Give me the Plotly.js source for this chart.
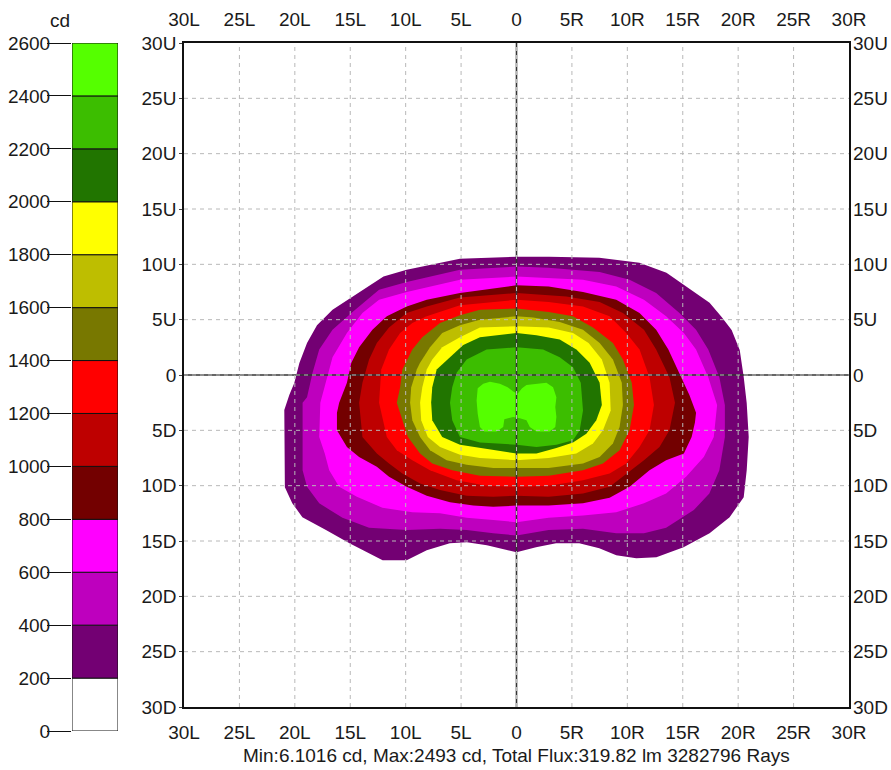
<!DOCTYPE html>
<html><head><meta charset="utf-8">
<script src="https://cdn.plot.ly/plotly-3.0.1.min.js"></script>
<style>html,body{margin:0;padding:0;background:#fff}#chart{width:891px;height:770px}</style>
</head><body><div id="chart"></div>
<script>
// Axis ticks (degrees: L negative / R positive, D negative / U positive)
const hTickVals = [-30,-25,-20,-15,-10,-5,0,5,10,15,20,25,30];
const hTickText = ['30L','25L','20L','15L','10L','5L','0','5R','10R','15R','20R','25R','30R'];
const vTickVals = [-30,-25,-20,-15,-10,-5,0,5,10,15,20,25,30];
const vTickText = ['30D','25D','20D','15D','10D','5D','0','5U','10U','15U','20U','25U','30U'];
const gridVals = [-25,-20,-15,-10,-5,0,5,10,15,20,25];

// Colour legend (cd)
const cbTickVals = [0,200,400,600,800,1000,1200,1400,1600,1800,2000,2200,2400,2600];
const bandBase = [0,200,400,600,800,1000,1200,1400,1600,1800,2000,2200,2400];
const bandColors = ['#FFFFFF','#730073','#BE00BE','#FF00FF','#730000','#BE0000','#FF0000','#787800','#BEBE00','#FFFF00','#217500','#3CBE00','#55FF00'];

// Iso-candela outlines, one per level
const contourLevels = [200,400,600,800,1000,1200,1400,1600,1800,2000,2200,2400];
const h200 = [0,2.94,7.47,11.09,13.53,15.34,17.42,18.51,19.41,20.14,20.5,20.77,20.95,20.77,20.5,19.23,17.42,15.07,12.62,10.81,9.0,7.47,5.66,3.57,1.76,0,-2.67,-4.48,-6.02,-8.1,-9.91,-12.08,-12.62,-15.07,-17.15,-19.32,-20.23,-20.9,-20.95,-20.5,-20.05,-19.59,-18.9,-18.0,-16.6,-14.89,-13.3,-12.0,-9.91,-7.5,-5.11];
const v200 = [10.68,10.68,10.59,10.14,9.23,7.96,6.52,5.25,4.07,2.26,-0.18,-2.53,-5.61,-8.6,-11.04,-12.85,-14.3,-15.57,-16.47,-16.56,-16.29,-15.66,-15.2,-15.2,-15.57,-16.02,-15.38,-15.11,-15.2,-15.84,-16.74,-16.74,-16.47,-15.2,-14.03,-12.85,-11.58,-10.14,-3.17,-1.8,-0.72,1.09,2.9,4.5,5.9,7.0,8.1,8.9,9.5,10.0,10.5];
const h400 = [0,2.9,7.5,10.2,12.6,14.7,16.2,17.3,18.3,18.8,18.8,18.3,17.4,16.0,13.5,11.5,9.0,6.0,2.9,0,-2.1,-4.5,-6.9,-9.9,-13.3,-15.7,-17.8,-18.9,-19.3,-19.3,-18.9,-18.4,-17.8,-16.6,-14.9,-12.4,-9.9,-5.1];
const v400 = [9.8,9.7,9.3,8.6,7.4,5.6,4.1,2.3,-0.2,-2.7,-5.6,-8.6,-10.7,-12.2,-13.8,-14.3,-14.3,-13.9,-14.0,-14.5,-14.3,-14.0,-13.9,-14.0,-13.8,-12.9,-11.6,-10.1,-8.6,-2.5,-2.0,0.2,2.3,4.1,5.6,7.7,8.4,9.5];
const h600 = [0,6.0,9.0,11.5,13.5,15.1,16.2,17.3,18.1,17.8,16.9,15.3,13.5,11.5,9.0,6.0,2.9,0,-2.1,-4.5,-6.9,-9.4,-12.1,-14.4,-16.0,-16.9,-17.3,-17.8,-17.7,-17.2,-16.6,-15.3,-13.9,-12.4,-9.9,-5.1];
const v600 = [8.9,8.6,8.0,6.8,5.3,3.8,2.3,-0.2,-2.7,-5.6,-7.4,-9.2,-10.7,-11.6,-12.4,-12.7,-12.9,-13.3,-13.1,-12.9,-12.5,-12.4,-12.0,-11.0,-10.1,-8.6,-7.1,-5.6,-2.5,-0.7,1.6,3.8,5.6,6.8,7.5,8.6];
const h800 = [0,2.9,6.0,9.0,11.1,12.6,13.7,14.9,15.6,16.2,16.1,15.8,15.1,13.5,12.0,10.2,8.4,6.0,2.9,0,-2.1,-3.9,-6.0,-8.1,-9.9,-11.5,-12.6,-14.2,-15.3,-16.2,-16.2,-16.0,-15.3,-14.9,-14.2,-13.0,-11.7,-9.9,-8.1,-5.1];
const v800 = [8.1,8.0,7.5,6.8,5.6,4.1,2.3,-0.2,-1.8,-3.4,-4.3,-5.6,-7.1,-7.7,-8.6,-10.1,-11.1,-11.6,-11.8,-11.8,-11.9,-11.8,-11.5,-10.9,-10.1,-9.2,-8.3,-7.4,-6.5,-5.0,-3.4,-2.5,-0.7,1.1,2.5,4.1,5.3,6.2,6.8,7.4];
const h1000 = [0,4.5,7.5,9.6,11.5,12.6,13.8,14.3,13.8,12.9,11.5,9.9,8.4,6.0,2.9,0,-2.1,-4.5,-6.9,-8.7,-10.3,-11.5,-12.6,-13.9,-14.2,-13.9,-13.3,-12.6,-11.5,-9.9,-8.1,-5.1];
const v1000 = [7.4,7.1,6.6,5.6,4.1,2.3,-0.2,-2.5,-5.0,-6.5,-7.7,-8.9,-10.1,-10.7,-11.0,-10.9,-11.0,-10.9,-10.4,-9.8,-8.9,-8.0,-7.1,-5.6,-2.5,-0.7,1.4,2.9,4.3,5.6,6.2,7.0];
const h1200 = [0,2.9,6.0,8.4,9.9,11.1,12.0,12.4,12.0,11.1,9.9,8.4,6.0,2.9,0,-2.7,-5.4,-7.8,-9.4,-10.8,-11.7,-12.4,-12.2,-11.5,-10.5,-9.4,-8.1,-5.1];
const v1200 = [6.8,6.6,6.2,5.3,3.8,2.3,-0.2,-2.7,-5.0,-6.5,-8.0,-8.9,-9.5,-10.0,-10.1,-10.0,-9.5,-8.6,-7.7,-6.8,-5.6,-2.5,0.5,2.3,3.8,4.7,5.3,6.3];
const h1400 = [0,2.9,5.1,6.9,8.7,9.6,10.4,10.6,10.2,9.3,7.8,6.0,2.9,0,-3.3,-5.8,-7.6,-8.7,-9.8,-10.3,-10.8,-10.5,-10.3,-9.4,-8.5,-6.9,-5.1,-3.3];
const v1400 = [6.0,5.7,5.3,4.3,2.9,1.4,-0.7,-2.7,-5.0,-6.8,-8.0,-8.6,-9.1,-9.2,-9.1,-8.6,-8.0,-7.1,-5.6,-4.1,-2.5,-1.1,0.5,2.3,3.4,4.7,5.4,5.9];
const h1600 = [0,1.5,3.9,6.0,7.5,8.7,9.5,9.6,9.3,8.7,7.5,6.0,2.9,0,-2.1,-4.5,-6.3,-7.8,-8.7,-9.4,-9.6,-9.5,-9.0,-8.7,-7.8,-6.7,-5.1,-3.3];
const v1600 = [5.3,5.2,4.8,4.1,2.9,1.4,-0.7,-2.7,-4.7,-6.2,-7.4,-8.0,-8.4,-8.4,-8.4,-8.1,-7.7,-6.8,-5.6,-4.1,-2.5,-1.1,0.5,1.1,2.5,3.8,4.5,5.0];
const h1800 = [0,2.9,5.1,6.5,7.7,8.4,8.5,7.8,6.9,5.4,2.9,0,-3.3,-5.1,-6.9,-8.0,-8.6,-8.7,-8.5,-8.1,-7.6,-6.7,-5.1,-3.3];
const v1800 = [4.4,4.3,3.8,2.9,1.4,-0.7,-3.2,-5.0,-6.2,-7.1,-7.5,-7.7,-7.5,-7.2,-6.5,-5.6,-4.1,-2.5,-1.1,0.5,1.4,2.5,3.4,4.3];
const h2000 = [0,1.8,3.9,5.4,6.6,7.5,7.7,7.2,6.3,5.1,3.6,1.8,0,-3.3,-5.1,-6.7,-7.6,-7.7,-7.6,-7.2,-6.0,-4.8,-3.3];
const v2000 = [3.8,3.6,3.2,2.3,1.1,-0.7,-2.7,-4.1,-5.3,-6.1,-6.6,-7.1,-7.1,-6.6,-6.3,-5.6,-4.1,-2.5,-1.1,0.5,1.6,2.7,3.4];
const h2200 = [0,2.4,3.9,5.1,5.8,6.0,5.7,5.1,3.6,1.8,0,-1.5,-3.3,-5.1,-5.8,-6.0,-5.8,-5.4,-4.5,-2.7];
const v2200 = [2.5,2.3,1.6,0.7,-0.7,-3.2,-5.0,-5.9,-6.3,-6.5,-6.3,-6.2,-6.1,-5.6,-4.1,-2.5,-1.1,0.2,1.4,2.3];
const h2400 = [0.1,0.5,0.9,1.8,2.7,3.3,3.6,3.5,3.6,3.5,3.0,1.8,1.2,0.9,0.3,-0.3,-1.1,-1.2,-1.8,-2.9,-3.3,-3.5,-3.6,-3.5,-3.0,-2.4,-1.5,-0.8,-0.3];
const v2400 = [-1.7,-1.2,-0.9,-0.8,-0.7,-1.1,-2.0,-2.9,-3.8,-4.7,-5.1,-5.1,-4.7,-4.1,-3.9,-3.8,-4.0,-4.7,-5.1,-5.1,-4.7,-3.5,-2.3,-1.2,-0.8,-0.6,-0.8,-1.1,-1.5];

const summaryText = 'Min:6.1016 cd, Max:2493 cd, Total Flux:319.82 lm 3282796 Rays';
const unitText = 'cd';

const outlinesH = [h200,h400,h600,h800,h1000,h1200,h1400,h1600,h1800,h2000,h2200,h2400];
const outlinesV = [v200,v400,v600,v800,v1000,v1200,v1400,v1600,v1800,v2000,v2200,v2400];

const font = {family: 'Liberation Sans, Arial, sans-serif', size: 19, color: '#1a1a1a'};

const traces = contourLevels.map((lev, i) => ({
  type: 'scatter', mode: 'lines', x: outlinesH[i], y: outlinesV[i],
  fill: 'toself', fillcolor: bandColors[i + 1], line: {width: 0, color: bandColors[i + 1]},
  hoverinfo: 'skip', name: String(lev), xaxis: 'x', yaxis: 'y'
}));

// empty traces so the mirrored (top / right) label axes are drawn
traces.push({type: 'scatter', mode: 'markers', x: [null], y: [null], xaxis: 'x3', yaxis: 'y', hoverinfo: 'skip'});
traces.push({type: 'scatter', mode: 'markers', x: [null], y: [null], xaxis: 'x', yaxis: 'y3', hoverinfo: 'skip'});

traces.push({
  type: 'bar', x: bandBase.map(() => 0), y: bandBase.map(() => 200), base: bandBase,
  width: 1, marker: {color: bandColors, line: {color: '#111', width: 1}},
  xaxis: 'x2', yaxis: 'y2', hoverinfo: 'skip'
});

const shapes = [];
// centre cross
shapes.push({type: 'line', xref: 'x', yref: 'y', x0: 0, x1: 0, y0: -30, y1: 30, layer: 'above', line: {color: '#333', width: 1.6}});
shapes.push({type: 'line', xref: 'x', yref: 'y', x0: -30, x1: 30, y0: 0, y1: 0, layer: 'above', line: {color: '#333', width: 1.6}});
gridVals.forEach(g => {
  shapes.push({type: 'line', xref: 'x', yref: 'y', x0: g, x1: g, y0: -30, y1: 30, layer: 'above', line: {color: '#B8B8B8', width: 1, dash: '4px,4px'}});
  shapes.push({type: 'line', xref: 'x', yref: 'y', x0: -30, x1: 30, y0: g, y1: g, layer: 'above', line: {color: '#B8B8B8', width: 1, dash: '4px,4px'}});
});

const xDom = [184/891, 849/891];
const yDom = [63/770, 727/770];

const layout = {
  width: 891, height: 770, margin: {l: 0, r: 0, t: 0, b: 0},
  paper_bgcolor: '#ffffff', plot_bgcolor: '#ffffff', showlegend: false, font: font,
  barmode: 'overlay',
  xaxis: {domain: xDom, range: [-30, 30], tickvals: hTickVals, ticktext: hTickText, showgrid: false, zeroline: false,
    showline: true, linecolor: '#111', linewidth: 1.8, mirror: true, ticks: '', layer: 'above traces', anchor: 'y',
    ticklabelstandoff: 7, fixedrange: true},
  yaxis: {domain: yDom, range: [-30, 30], tickvals: vTickVals, ticktext: vTickText, showgrid: false, zeroline: false,
    showline: true, linecolor: '#111', linewidth: 1.8, mirror: true, ticks: 'outside', ticklen: 3, tickcolor: '#444',
    layer: 'above traces', anchor: 'x', ticklabelstandoff: -1, fixedrange: true},
  xaxis3: {overlaying: 'x', side: 'top', anchor: 'y', range: [-30, 30], tickvals: hTickVals, ticktext: hTickText,
    showgrid: false, zeroline: false, showline: false, ticks: '', ticklabelstandoff: 12, fixedrange: true},
  yaxis3: {overlaying: 'y', side: 'right', anchor: 'x', range: [-30, 30], tickvals: vTickVals, ticktext: vTickText,
    showgrid: false, zeroline: false, showline: false, ticks: '', ticklabelstandoff: 3, fixedrange: true},
  xaxis2: {domain: [72/891, 118/891], range: [-0.5, 0.5], visible: false, anchor: 'y2', fixedrange: true},
  yaxis2: {domain: [39/770, 727/770], range: [0, 2600], tickvals: cbTickVals, ticks: 'outside', ticklen: 24, tickcolor: '#111',
    tickwidth: 1, showgrid: false, zeroline: false, showline: false, anchor: 'x2', side: 'left', ticklabelstandoff: -7, fixedrange: true},
  shapes: shapes,
  annotations: [
    {text: unitText, xref: 'paper', yref: 'paper', x: 60/891, y: (770-20)/770, xanchor: 'center', yanchor: 'middle', showarrow: false, font: font},
    {text: summaryText, xref: 'paper', yref: 'paper', x: 516/891, y: (770-755)/770, xanchor: 'center', yanchor: 'middle', showarrow: false, font: font}
  ]
};

Plotly.newPlot('chart', traces, layout, {staticPlot: true, displayModeBar: false});
</script>
</body></html>
